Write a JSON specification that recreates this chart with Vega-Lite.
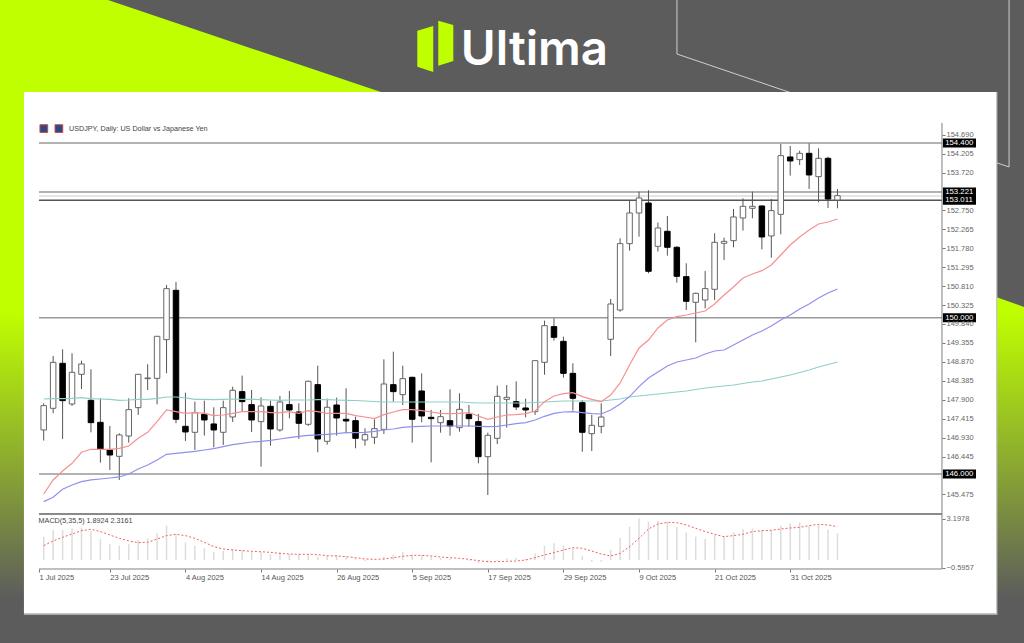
{
  "$schema": "https://vega.github.io/schema/vega-lite/v6.json",
  "width": 1024,
  "height": 643,
  "padding": 0,
  "autosize": {"type": "none"},
  "background": "#5c5c5c",
  "config": {"view": {"stroke": null}, "scale": {"continuousPadding": 0}},
  "datasets": {
    "shapes": [
      {"shape": "corner", "px": 0, "top": 0, "bottom": 14.31},
      {"shape": "corner", "px": 10.55, "top": 0, "bottom": 14.31},
      {"shape": "corner", "px": 37.2, "top": 14.31, "bottom": 14.31},
      {"shape": "logo left", "px": 40.75, "top": 4.77, "bottom": 10.37},
      {"shape": "logo left", "px": 42.31, "top": 4.04, "bottom": 11.2},
      {"shape": "logo right", "px": 42.8, "top": 3.22, "bottom": 10.22},
      {"shape": "logo right", "px": 44.27, "top": 3.89, "bottom": 9.49}
    ],
    "band": [
      {"px": 0, "top": 14.31, "bottom": 100},
      {"px": 2.6, "top": 14.31, "bottom": 100},
      {"px": 97.27, "top": 46.19, "bottom": 100},
      {"px": 100, "top": 47.74, "bottom": 100}
    ],
    "outline": [
      {"seq": 1, "px": 66.11, "py": 0},
      {"seq": 2, "px": 66.11, "py": 8.4},
      {"seq": 3, "px": 98.54, "py": 25.97},
      {"seq": 4, "px": 98.54, "py": 0}
    ],
    "levels": [
      {"price": 154.475, "label": "154.400"},
      {"price": 153.221, "label": "153.221"},
      {"price": 153.12, "label": ""},
      {"price": 153.011, "label": "153.011"},
      {"price": 150, "label": "150.000"},
      {"price": 146, "label": "146.000"}
    ],
    "bars": [
      {"bar":0,"open":147.125,"high":147.808,"low":146.852,"close":147.748,"fast":145.485,"mid":145.289,"slow":147.919,"macd":1.80,"signal":1.11},
      {"bar":1,"open":147.68,"high":149.021,"low":147.552,"close":148.858,"fast":145.844,"mid":145.4,"slow":147.928,"macd":2.31,"signal":1.47},
      {"bar":2,"open":148.833,"high":149.191,"low":146.894,"close":147.876,"fast":146.074,"mid":145.605,"slow":147.928,"macd":2.31,"signal":1.75},
      {"bar":3,"open":147.791,"high":149.089,"low":147.74,"close":148.602,"fast":146.271,"mid":145.716,"slow":147.936,"macd":2.44,"signal":2.01},
      {"bar":4,"open":148.551,"high":148.901,"low":148.175,"close":148.816,"fast":146.553,"mid":145.801,"slow":147.953,"macd":2.49,"signal":2.26},
      {"bar":5,"open":147.885,"high":148.679,"low":147.065,"close":147.313,"fast":146.63,"mid":145.844,"slow":147.928,"macd":2.24,"signal":2.37},
      {"bar":6,"open":147.321,"high":147.936,"low":146.288,"close":146.629,"fast":146.63,"mid":145.869,"slow":147.919,"macd":1.62,"signal":2.19},
      {"bar":7,"open":146.612,"high":147.227,"low":146.1,"close":146.484,"fast":146.63,"mid":145.895,"slow":147.911,"macd":1.21,"signal":1.93},
      {"bar":8,"open":146.45,"high":147.04,"low":145.844,"close":146.997,"fast":146.655,"mid":145.921,"slow":147.885,"macd":1.11,"signal":1.67},
      {"bar":9,"open":146.971,"high":147.936,"low":146.8,"close":147.646,"fast":146.715,"mid":145.998,"slow":147.893,"macd":1.21,"signal":1.47},
      {"bar":10,"open":147.697,"high":148.56,"low":147.509,"close":148.551,"fast":146.911,"mid":146.126,"slow":147.911,"macd":1.54,"signal":1.34},
      {"bar":11,"open":148.44,"high":148.807,"low":148.15,"close":148.457,"fast":147.065,"mid":146.228,"slow":147.911,"macd":1.67,"signal":1.36},
      {"bar":12,"open":148.448,"high":149.525,"low":147.782,"close":149.525,"fast":147.338,"mid":146.356,"slow":147.936,"macd":2.06,"signal":1.62},
      {"bar":13,"open":149.439,"high":150.84,"low":148.577,"close":150.746,"fast":147.637,"mid":146.501,"slow":147.97,"macd":2.65,"signal":1.88},
      {"bar":14,"open":150.703,"high":150.917,"low":147.296,"close":147.398,"fast":147.594,"mid":146.527,"slow":147.97,"macd":1.98,"signal":1.98},
      {"bar":15,"open":147.219,"high":148.081,"low":146.843,"close":147.074,"fast":147.552,"mid":146.553,"slow":147.945,"macd":1.36,"signal":1.88},
      {"bar":16,"open":147.065,"high":147.851,"low":146.612,"close":147.569,"fast":147.569,"mid":146.578,"slow":147.911,"macd":1.11,"signal":1.67},
      {"bar":17,"open":147.526,"high":147.876,"low":146.98,"close":147.381,"fast":147.552,"mid":146.612,"slow":147.911,"macd":0.90,"signal":1.36},
      {"bar":18,"open":147.279,"high":147.706,"low":146.681,"close":147.125,"fast":147.492,"mid":146.647,"slow":147.902,"macd":0.64,"signal":1.03},
      {"bar":19,"open":147.065,"high":147.876,"low":146.741,"close":147.697,"fast":147.509,"mid":146.698,"slow":147.911,"macd":0.69,"signal":0.85},
      {"bar":20,"open":147.458,"high":148.235,"low":147.33,"close":148.141,"fast":147.552,"mid":146.749,"slow":147.919,"macd":0.85,"signal":0.77},
      {"bar":21,"open":148.107,"high":148.517,"low":147.595,"close":147.851,"fast":147.594,"mid":146.783,"slow":147.911,"macd":0.75,"signal":0.72},
      {"bar":22,"open":147.774,"high":148.15,"low":147.074,"close":147.381,"fast":147.594,"mid":146.817,"slow":147.911,"macd":0.64,"signal":0.67},
      {"bar":23,"open":147.338,"high":147.962,"low":146.185,"close":147.74,"fast":147.594,"mid":146.834,"slow":147.902,"macd":0.64,"signal":0.64},
      {"bar":24,"open":147.731,"high":147.876,"low":146.723,"close":147.15,"fast":147.569,"mid":146.86,"slow":147.893,"macd":0.44,"signal":0.59},
      {"bar":25,"open":147.125,"high":147.996,"low":147.082,"close":147.842,"fast":147.569,"mid":146.894,"slow":147.885,"macd":0.59,"signal":0.51},
      {"bar":26,"open":147.774,"high":148.124,"low":147.424,"close":147.637,"fast":147.594,"mid":146.928,"slow":147.893,"macd":0.46,"signal":0.46},
      {"bar":27,"open":147.586,"high":147.808,"low":146.894,"close":147.296,"fast":147.552,"mid":146.962,"slow":147.893,"macd":0.44,"signal":0.44},
      {"bar":28,"open":147.27,"high":148.389,"low":147.227,"close":148.372,"fast":147.62,"mid":146.988,"slow":147.893,"macd":0.46,"signal":0.44},
      {"bar":29,"open":148.286,"high":148.773,"low":146.553,"close":146.894,"fast":147.594,"mid":146.997,"slow":147.902,"macd":0.26,"signal":0.41},
      {"bar":30,"open":146.834,"high":147.928,"low":146.749,"close":147.706,"fast":147.552,"mid":147.014,"slow":147.902,"macd":0.33,"signal":0.33},
      {"bar":31,"open":147.765,"high":147.953,"low":146.98,"close":147.432,"fast":147.552,"mid":147.031,"slow":147.893,"macd":0.39,"signal":0.31},
      {"bar":32,"open":147.398,"high":148.192,"low":147.039,"close":147.355,"fast":147.552,"mid":147.056,"slow":147.885,"macd":0.26,"signal":0.26},
      {"bar":33,"open":147.363,"high":147.466,"low":146.655,"close":146.911,"fast":147.492,"mid":147.056,"slow":147.88,"macd":0.13,"signal":0.18},
      {"bar":34,"open":146.868,"high":147.167,"low":146.723,"close":147.005,"fast":147.457,"mid":147.065,"slow":147.867,"macd":-0.08,"signal":0.08},
      {"bar":35,"open":146.937,"high":147.398,"low":146.766,"close":147.159,"fast":147.415,"mid":147.09,"slow":147.855,"macd":0,"signal":0.05},
      {"bar":36,"open":147.141,"high":148.935,"low":147.022,"close":148.303,"fast":147.517,"mid":147.124,"slow":147.842,"macd":0.26,"signal":0.08},
      {"bar":37,"open":148.286,"high":149.131,"low":147.85,"close":148.107,"fast":147.586,"mid":147.15,"slow":147.842,"macd":0.39,"signal":0.18},
      {"bar":38,"open":148.03,"high":148.773,"low":147.765,"close":148.44,"fast":147.645,"mid":147.193,"slow":147.842,"macd":0.64,"signal":0.28},
      {"bar":39,"open":148.474,"high":148.491,"low":146.8,"close":147.398,"fast":147.645,"mid":147.21,"slow":147.842,"macd":0.39,"signal":0.36},
      {"bar":40,"open":148.124,"high":148.576,"low":147.321,"close":147.483,"fast":147.62,"mid":147.218,"slow":147.842,"macd":0.39,"signal":0.36},
      {"bar":41,"open":147.449,"high":147.637,"low":146.296,"close":147.415,"fast":147.586,"mid":147.227,"slow":147.842,"macd":0.26,"signal":0.31},
      {"bar":42,"open":147.312,"high":147.637,"low":147.056,"close":147.466,"fast":147.551,"mid":147.227,"slow":147.842,"macd":0.13,"signal":0.23},
      {"bar":43,"open":147.363,"high":148.166,"low":146.979,"close":147.227,"fast":147.543,"mid":147.227,"slow":147.842,"macd":0.08,"signal":0.18},
      {"bar":44,"open":147.184,"high":148.064,"low":147.082,"close":147.654,"fast":147.551,"mid":147.227,"slow":147.842,"macd":0,"signal":0.13},
      {"bar":45,"open":147.526,"high":147.765,"low":147.21,"close":147.415,"fast":147.568,"mid":147.227,"slow":147.829,"macd":-0.05,"signal":0.05},
      {"bar":46,"open":147.338,"high":147.534,"low":146.27,"close":146.441,"fast":147.483,"mid":147.218,"slow":147.816,"macd":-0.26,"signal":-0.05},
      {"bar":47,"open":146.441,"high":147.056,"low":145.459,"close":146.988,"fast":147.398,"mid":147.21,"slow":147.816,"macd":-0.18,"signal":-0.13},
      {"bar":48,"open":146.911,"high":148.26,"low":146.766,"close":147.987,"fast":147.457,"mid":147.218,"slow":147.816,"macd":-0.08,"signal":-0.13},
      {"bar":49,"open":147.91,"high":148.277,"low":147.184,"close":147.961,"fast":147.509,"mid":147.253,"slow":147.816,"macd":0.13,"signal":-0.10},
      {"bar":50,"open":147.85,"high":148.371,"low":147.637,"close":147.714,"fast":147.517,"mid":147.287,"slow":147.816,"macd":0.18,"signal":-0.08},
      {"bar":51,"open":147.688,"high":147.927,"low":147.449,"close":147.637,"fast":147.543,"mid":147.312,"slow":147.816,"macd":0.08,"signal":0},
      {"bar":52,"open":147.594,"high":148.901,"low":147.509,"close":148.901,"fast":147.611,"mid":147.381,"slow":147.829,"macd":0.51,"signal":0.18},
      {"bar":53,"open":148.858,"high":149.926,"low":148.542,"close":149.797,"fast":147.85,"mid":147.475,"slow":147.842,"macd":1.08,"signal":0.39},
      {"bar":54,"open":149.772,"high":149.985,"low":149.413,"close":149.499,"fast":147.995,"mid":147.551,"slow":147.855,"macd":1.29,"signal":0.57},
      {"bar":55,"open":149.396,"high":149.516,"low":148.465,"close":148.576,"fast":148.055,"mid":147.586,"slow":147.867,"macd":1.11,"signal":0.77},
      {"bar":56,"open":148.576,"high":148.832,"low":147.62,"close":147.936,"fast":148.081,"mid":147.594,"slow":147.867,"macd":0.90,"signal":0.95},
      {"bar":57,"open":147.825,"high":147.893,"low":146.569,"close":147.065,"fast":147.978,"mid":147.568,"slow":147.867,"macd":0.33,"signal":0.90},
      {"bar":58,"open":147.03,"high":147.509,"low":146.586,"close":147.244,"fast":147.91,"mid":147.543,"slow":147.867,"macd":-0.13,"signal":0.69},
      {"bar":59,"open":147.218,"high":147.808,"low":147.039,"close":147.457,"fast":147.85,"mid":147.534,"slow":147.867,"macd":-0.13,"signal":0.46},
      {"bar":60,"open":149.448,"high":150.481,"low":149.021,"close":150.353,"fast":148.021,"mid":147.637,"slow":147.893,"macd":0.77,"signal":0.31},
      {"bar":61,"open":150.199,"high":152.035,"low":150.157,"close":151.899,"fast":148.329,"mid":147.791,"slow":147.919,"macd":1.72,"signal":0.51},
      {"bar":62,"open":151.899,"high":153.017,"low":151.719,"close":152.684,"fast":148.79,"mid":147.978,"slow":147.97,"macd":2.57,"signal":1.03},
      {"bar":63,"open":152.684,"high":153.231,"low":152.078,"close":153.069,"fast":149.225,"mid":148.235,"slow":147.995,"macd":3.20,"signal":1.67},
      {"bar":64,"open":152.94,"high":153.265,"low":151.139,"close":151.19,"fast":149.43,"mid":148.457,"slow":148.021,"macd":2.96,"signal":2.39},
      {"bar":65,"open":151.83,"high":152.437,"low":151.694,"close":152.3,"fast":149.738,"mid":148.61,"slow":148.047,"macd":3.03,"signal":2.78},
      {"bar":66,"open":152.215,"high":152.608,"low":151.591,"close":151.805,"fast":149.943,"mid":148.764,"slow":148.072,"macd":2.96,"signal":2.90},
      {"bar":67,"open":151.805,"high":151.839,"low":150.899,"close":151.062,"fast":150.027,"mid":148.866,"slow":148.098,"macd":2.57,"signal":2.88},
      {"bar":68,"open":151.053,"high":151.395,"low":150.199,"close":150.421,"fast":150.071,"mid":148.918,"slow":148.124,"macd":2.11,"signal":2.70},
      {"bar":69,"open":150.396,"high":150.643,"low":149.371,"close":150.626,"fast":150.122,"mid":148.969,"slow":148.162,"macd":1.80,"signal":2.44},
      {"bar":70,"open":150.455,"high":151.198,"low":150.242,"close":150.746,"fast":150.173,"mid":149.072,"slow":148.2,"macd":1.62,"signal":2.19},
      {"bar":71,"open":150.729,"high":152.163,"low":150.455,"close":151.933,"fast":150.352,"mid":149.148,"slow":148.226,"macd":1.93,"signal":1.98},
      {"bar":72,"open":151.907,"high":152.052,"low":151.48,"close":151.958,"fast":150.583,"mid":149.174,"slow":148.252,"macd":1.80,"signal":1.80},
      {"bar":73,"open":151.975,"high":152.787,"low":151.805,"close":152.582,"fast":150.788,"mid":149.302,"slow":148.277,"macd":2.13,"signal":1.88},
      {"bar":74,"open":152.556,"high":153.06,"low":152.232,"close":152.855,"fast":151.019,"mid":149.43,"slow":148.316,"macd":2.39,"signal":1.98},
      {"bar":75,"open":152.804,"high":153.231,"low":152.548,"close":152.855,"fast":151.121,"mid":149.558,"slow":148.354,"macd":2.44,"signal":2.19},
      {"bar":76,"open":152.864,"high":152.872,"low":151.753,"close":152.069,"fast":151.206,"mid":149.661,"slow":148.38,"macd":2.31,"signal":2.26},
      {"bar":77,"open":152.095,"high":153.043,"low":151.54,"close":152.744,"fast":151.352,"mid":149.789,"slow":148.431,"macd":2.31,"signal":2.29},
      {"bar":78,"open":152.65,"high":154.452,"low":152.138,"close":154.153,"fast":151.608,"mid":149.943,"slow":148.482,"macd":2.65,"signal":2.39},
      {"bar":79,"open":154.119,"high":154.401,"low":153.641,"close":154.017,"fast":151.864,"mid":150.071,"slow":148.534,"macd":2.83,"signal":2.47},
      {"bar":80,"open":154.051,"high":154.281,"low":153.914,"close":154.213,"fast":152.069,"mid":150.224,"slow":148.598,"macd":2.90,"signal":2.52},
      {"bar":81,"open":154.213,"high":154.469,"low":153.3,"close":153.658,"fast":152.248,"mid":150.352,"slow":148.662,"macd":2.65,"signal":2.65},
      {"bar":82,"open":153.615,"high":154.341,"low":152.958,"close":154.085,"fast":152.402,"mid":150.506,"slow":148.739,"macd":2.75,"signal":2.75},
      {"bar":83,"open":154.085,"high":154.128,"low":152.812,"close":153.043,"fast":152.453,"mid":150.634,"slow":148.803,"macd":2.36,"signal":2.70},
      {"bar":84,"open":153.017,"high":153.299,"low":152.804,"close":153.128,"fast":152.53,"mid":150.737,"slow":148.867,"macd":2.06,"signal":2.57}
    ]
  },
  "resolve": {"scale": {"x": "independent", "y": "independent"}},
  "layer": [
    {
      "layer": [
        {
          "data": {"name": "band"},
          "mark": {"type": "area", "color": {"gradient": "linear", "x1": 0, "y1": 0, "x2": 0, "y2": 1, "stops": [{"offset": 0, "color": "#bfff00"}, {"offset": 0.4, "color": "#bfff00"}, {"offset": 0.92, "color": "#5c5c5c"}, {"offset": 1, "color": "#5c5c5c"}]}},
          "encoding": {
            "x": {"field": "px", "type": "quantitative", "scale": {"domain": [0, 100], "nice": false}, "axis": null},
            "y": {"field": "top", "type": "quantitative", "scale": {"domain": [0, 100], "nice": false, "reverse": true}, "axis": null},
            "y2": {"field": "bottom"}
          }
        },
        {
          "data": {"name": "shapes"},
          "mark": {"type": "area", "color": "#bfff00"},
          "encoding": {
            "x": {"field": "px", "type": "quantitative", "scale": {"domain": [0, 100], "nice": false}, "axis": null},
            "y": {"field": "top", "type": "quantitative", "scale": {"domain": [0, 100], "nice": false, "reverse": true}, "axis": null},
            "y2": {"field": "bottom"},
            "detail": {"field": "shape"}
          }
        },
        {
          "data": {"name": "outline"},
          "mark": {"type": "line", "color": "#cfcfcf", "strokeWidth": 1},
          "encoding": {
            "x": {"field": "px", "type": "quantitative", "scale": {"domain": [0, 100], "nice": false}, "axis": null},
            "y": {"field": "py", "type": "quantitative", "scale": {"domain": [0, 100], "nice": false, "reverse": true}, "axis": null},
            "order": {"field": "seq"}
          }
        },
        {
          "data": {"values": [{"panel": "shadow"}]},
          "mark": {"type": "rect", "color": "#c4c4c4"},
          "encoding": {
            "x": {"datum": 2.34, "type": "quantitative", "scale": {"domain": [0, 100], "nice": false}, "axis": null},
            "x2": {"datum": 97.4},
            "y": {"datum": 14.31, "type": "quantitative", "scale": {"domain": [0, 100], "nice": false, "reverse": true}, "axis": null},
            "y2": {"datum": 95.6}
          }
        },
        {
          "data": {"values": [{"panel": "white"}]},
          "mark": {"type": "rect", "color": "#ffffff"},
          "encoding": {
            "x": {"datum": 2.34, "type": "quantitative", "scale": {"domain": [0, 100], "nice": false}, "axis": null},
            "x2": {"datum": 97.27},
            "y": {"datum": 14.31, "type": "quantitative", "scale": {"domain": [0, 100], "nice": false, "reverse": true}, "axis": null},
            "y2": {"datum": 95.33}
          }
        },
        {
          "data": {"values": [{"label": "Ultima"}]},
          "mark": {"type": "text", "align": "left", "baseline": "alphabetic", "font": "Inter", "fontWeight": 600, "fontSize": 47.5, "color": "#ffffff"},
          "encoding": {
            "x": {"datum": 45.0, "type": "quantitative", "scale": {"domain": [0, 100], "nice": false}, "axis": null},
            "y": {"datum": 10.11, "type": "quantitative", "scale": {"domain": [0, 100], "nice": false, "reverse": true}, "axis": null},
            "text": {"field": "label"}
          }
        },
        {
          "data": {"values": [{"label": "USDJPY, Daily:  US Dollar vs Japanese Yen"}]},
          "mark": {"type": "text", "align": "left", "baseline": "middle", "font": "Liberation Sans", "fontSize": 7.2, "color": "#444444"},
          "encoding": {
            "x": {"datum": 6.74, "type": "quantitative", "scale": {"domain": [0, 100], "nice": false}, "axis": null},
            "y": {"datum": 20.0, "type": "quantitative", "scale": {"domain": [0, 100], "nice": false, "reverse": true}, "axis": null},
            "text": {"field": "label"}
          }
        },
        {
          "data": {"values": [{"flag": 4.28}, {"flag": 5.75}]},
          "mark": {"type": "point", "shape": "square", "filled": true, "size": 60, "color": "#2a4a86", "stroke": "#d04848", "strokeWidth": 1, "opacity": 1},
          "encoding": {
            "x": {"field": "flag", "type": "quantitative", "scale": {"domain": [0, 100], "nice": false}, "axis": null},
            "y": {"datum": 20.0, "type": "quantitative", "scale": {"domain": [0, 100], "nice": false, "reverse": true}, "axis": null}
          }
        },
        {
          "data": {"values": [{"label": "MACD(5,35,5) 1.8924 2.3161"}]},
          "mark": {"type": "text", "align": "left", "baseline": "middle", "font": "Liberation Sans", "fontSize": 7.2, "color": "#444444"},
          "encoding": {
            "x": {"datum": 3.77, "type": "quantitative", "scale": {"domain": [0, 100], "nice": false}, "axis": null},
            "y": {"datum": 81.0, "type": "quantitative", "scale": {"domain": [0, 100], "nice": false, "reverse": true}, "axis": null},
            "text": {"field": "label"}
          }
        }
      ]
    },
    {
      "layer": [
        {
          "data": {"name": "levels"},
          "mark": {"type": "rule", "strokeWidth": 1.5},
          "encoding": {
            "x": {"datum": -0.5, "type": "quantitative", "scale": {"domain": [-4.624, 103.74], "nice": false}, "axis": null},
            "x2": {"datum": 95.06},
            "y": {"field": "price", "type": "quantitative", "scale": {"domain": [141.667, 158.141], "nice": false}, "axis": null},
            "color": {"condition": [{"test": "datum.label === '153.011'", "value": "#555555"}, {"test": "datum.label === ''", "value": "#dddddd"}], "value": "#999999"}
          }
        },
        {
          "data": {"values": [{"frame": "pane"}]},
          "mark": {"type": "rule", "color": "#8a8a8a", "strokeWidth": 2},
          "encoding": {
            "x": {"datum": -0.5, "type": "quantitative", "scale": {"domain": [-4.624, 103.74], "nice": false}, "axis": null},
            "x2": {"datum": 95.06},
            "y": {"datum": 144.972, "type": "quantitative", "scale": {"domain": [141.667, 158.141], "nice": false}, "axis": null}
          }
        },
        {
          "data": {"values": [{"frame": "axis"}]},
          "mark": {"type": "rule", "color": "#808080", "strokeWidth": 1},
          "encoding": {
            "x": {"datum": 95.06, "type": "quantitative", "scale": {"domain": [-4.624, 103.74], "nice": false}, "axis": null},
            "y": {"datum": 154.99, "type": "quantitative", "scale": {"domain": [141.667, 158.141], "nice": false}, "axis": null},
            "y2": {"datum": 143.56}
          }
        },
        {
          "data": {"name": "bars"},
          "mark": {"type": "rule", "color": "#555555", "strokeWidth": 1},
          "encoding": {
            "x": {"field": "bar", "type": "quantitative", "scale": {"domain": [-4.624, 103.74], "nice": false}, "axis": null},
            "y": {"field": "low", "type": "quantitative", "scale": {"domain": [141.667, 158.141], "nice": false}, "axis": null},
            "y2": {"field": "high"}
          }
        },
        {
          "data": {"name": "bars"},
          "mark": {"type": "bar", "size": 5.5, "strokeWidth": 1},
          "encoding": {
            "x": {"field": "bar", "type": "quantitative", "scale": {"domain": [-4.624, 103.74], "nice": false}, "axis": null},
            "y": {"field": "open", "type": "quantitative", "scale": {"domain": [141.667, 158.141], "nice": false}, "axis": null},
            "y2": {"field": "close"},
            "fill": {"condition": {"test": "datum.close < datum.open", "value": "#000000"}, "value": "#ffffff"},
            "stroke": {"condition": {"test": "datum.close < datum.open", "value": "#000000"}, "value": "#666666"}
          }
        },
        {
          "data": {"name": "bars"},
          "mark": {"type": "line", "color": "#8fcfc8", "strokeWidth": 1.2},
          "encoding": {
            "x": {"field": "bar", "type": "quantitative", "scale": {"domain": [-4.624, 103.74], "nice": false}, "axis": null},
            "y": {"field": "slow", "type": "quantitative", "scale": {"domain": [141.667, 158.141], "nice": false}, "axis": null}
          }
        },
        {
          "data": {"name": "bars"},
          "mark": {"type": "line", "color": "#8f8ff0", "strokeWidth": 1.2},
          "encoding": {
            "x": {"field": "bar", "type": "quantitative", "scale": {"domain": [-4.624, 103.74], "nice": false}, "axis": null},
            "y": {"field": "mid", "type": "quantitative", "scale": {"domain": [141.667, 158.141], "nice": false}, "axis": null}
          }
        },
        {
          "data": {"name": "bars"},
          "mark": {"type": "line", "color": "#f59090", "strokeWidth": 1.2},
          "encoding": {
            "x": {"field": "bar", "type": "quantitative", "scale": {"domain": [-4.624, 103.74], "nice": false}, "axis": null},
            "y": {"field": "fast", "type": "quantitative", "scale": {"domain": [141.667, 158.141], "nice": false}, "axis": null}
          }
        },
        {
          "data": {"name": "levels"},
          "transform": [{"filter": "datum.label !== ''"}],
          "mark": {"type": "bar", "size": 9, "color": "#000000"},
          "encoding": {
            "x": {"datum": 95.16, "type": "quantitative", "scale": {"domain": [-4.624, 103.74], "nice": false}, "axis": null},
            "x2": {"datum": 98.66},
            "y": {"field": "price", "type": "quantitative", "scale": {"domain": [141.667, 158.141], "nice": false}, "axis": null}
          }
        },
        {
          "data": {"name": "levels"},
          "transform": [{"filter": "datum.label !== ''"}],
          "mark": {"type": "text", "align": "left", "baseline": "middle", "font": "Liberation Sans", "fontSize": 7.8, "color": "#ffffff"},
          "encoding": {
            "x": {"datum": 95.4, "type": "quantitative", "scale": {"domain": [-4.624, 103.74], "nice": false}, "axis": null},
            "y": {"field": "price", "type": "quantitative", "scale": {"domain": [141.667, 158.141], "nice": false}, "axis": null},
            "text": {"field": "label"}
          }
        }
      ]
    },
    {
      "layer": [
        {
          "data": {"values": [{"frame": "bottom"}]},
          "mark": {"type": "rule", "color": "#808080", "strokeWidth": 1},
          "encoding": {
            "x": {"datum": -0.5, "type": "quantitative", "scale": {"domain": [-4.624, 103.74], "nice": false}, "axis": null},
            "x2": {"datum": 95.06},
            "y": {"datum": -0.694, "type": "quantitative", "scale": {"domain": [-6.4, 43.18], "nice": false}, "axis": null}
          }
        },
        {
          "data": {"name": "bars"},
          "mark": {"type": "rule", "color": "#dcdcdc", "strokeWidth": 1.5},
          "encoding": {
            "x": {"field": "bar", "type": "quantitative", "scale": {"domain": [-4.624, 103.74], "nice": false}, "axis": null},
            "y": {"field": "macd", "type": "quantitative", "scale": {"domain": [-6.4, 43.18], "nice": false}, "axis": null},
            "y2": {"datum": 0}
          }
        },
        {
          "data": {"name": "bars"},
          "mark": {"type": "line", "color": "#f06060", "strokeWidth": 1, "strokeDash": [2, 2]},
          "encoding": {
            "x": {"field": "bar", "type": "quantitative", "scale": {"domain": [-4.624, 103.74], "nice": false}, "axis": null},
            "y": {"field": "signal", "type": "quantitative", "scale": {"domain": [-6.4, 43.18], "nice": false}, "axis": null}
          }
        }
      ]
    },
    {
      "data": {"name": "levels"},
      "mark": {"type": "rule", "opacity": 0},
      "encoding": {
        "y": {
          "field": "price", "type": "quantitative", "scale": {"domain": [141.667, 158.141], "nice": false},
          "axis": {"orient": "right", "offset": -82, "values": [154.69, 154.205, 153.72, 152.75, 152.265, 151.78, 151.295, 150.81, 150.325, 149.84, 149.355, 148.87, 148.385, 147.9, 147.415, 146.93, 146.445, 145.475], "format": ".3f", "title": null, "grid": false, "domain": false, "tickSize": 3, "tickColor": "#777777", "labelFont": "Liberation Sans", "labelFontSize": 7.5, "labelColor": "#666666", "labelPadding": 1, "labelOverlap": false, "labelBound": false, "zindex": 1}
        }
      }
    },
    {
      "data": {"name": "bars"},
      "mark": {"type": "rule", "opacity": 0},
      "encoding": {
        "x": {
          "field": "bar", "type": "quantitative", "scale": {"domain": [-4.624, 103.74], "nice": false},
          "axis": {"orient": "bottom", "offset": -74, "values": [-0.5, 7, 15, 23, 31, 39, 47, 55, 63, 71, 79], "labelExpr": "{'-0.5': '1 Jul 2025', '7': '23 Jul 2025', '15': '4 Aug 2025', '23': '14 Aug 2025', '31': '26 Aug 2025', '39': '5 Sep 2025', '47': '17 Sep 2025', '55': '29 Sep 2025', '63': '9 Oct 2025', '71': '21 Oct 2025', '79': '31 Oct 2025'}[datum.value + '']", "title": null, "grid": false, "domain": false, "tickSize": 3, "tickColor": "#777777", "labelFont": "Liberation Sans", "labelFontSize": 7.5, "labelColor": "#555555", "labelPadding": 1, "labelAlign": "left", "labelOverlap": false, "labelBound": false, "labelFlush": false, "zindex": 1}
        },
        "y": {"field": "macd", "type": "quantitative", "scale": {"domain": [-6.4, 43.18], "nice": false}, "axis": {"orient": "right", "offset": -82, "values": [3.1978, -0.5957], "format": ".4f", "title": null, "grid": false, "domain": false, "tickSize": 3, "tickColor": "#777777", "labelFont": "Liberation Sans", "labelFontSize": 7.5, "labelColor": "#666666", "labelPadding": 1, "labelOverlap": false, "labelBound": false, "zindex": 1}}
      }
    }
  ]
}
